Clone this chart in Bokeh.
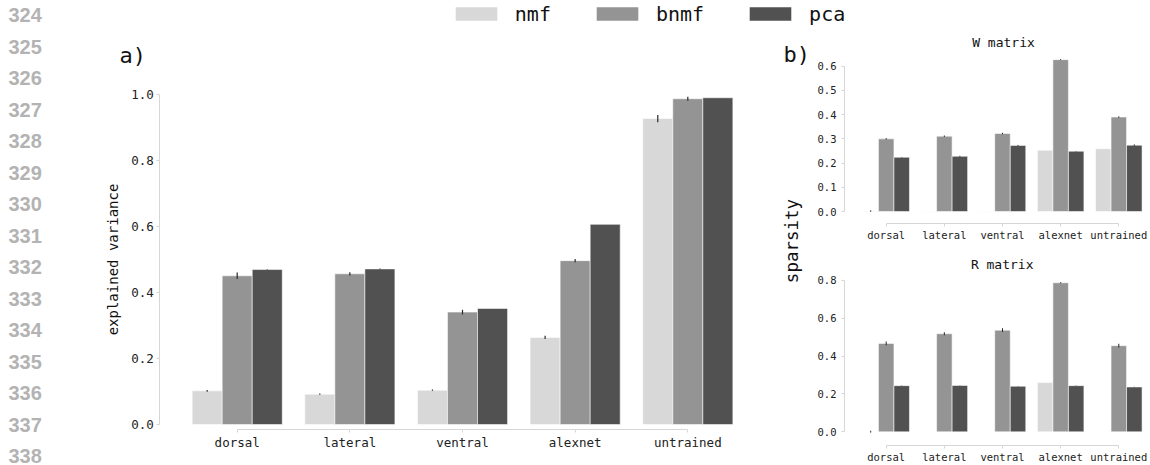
import math
from bokeh.plotting import figure
from bokeh.models import (ColumnDataSource, Range1d, FixedTicker, Label, Legend,
                          LegendItem, PrintfTickFormatter, LinearAxis)
from bokeh.transform import dodge
from bokeh.layouts import row, column
from bokeh.embed import file_html
from bokeh.resources import INLINE
from bokeh.core.properties import value

# ---------------- data ----------------
categories = ["dorsal", "lateral", "ventral", "alexnet", "untrained"]
methods = ["nmf", "bnmf", "pca"]
colors = ["#d8d8d8", "#949494", "#515151"]

# a) explained variance
ev_nmf = [0.102, 0.092, 0.104, 0.264, 0.928]
ev_bnmf = [0.451, 0.457, 0.341, 0.497, 0.988]
ev_pca = [0.470, 0.472, 0.352, 0.607, 0.991]
ev_nmf_err = [0.003, 0.002, 0.002, 0.005, 0.011]
ev_bnmf_err = [0.010, 0.005, 0.007, 0.005, 0.006]
ev_pca_err = [0.001, 0.001, 0.000, 0.000, 0.000]

# b) sparsity, W matrix
w_nmf = [0.002, 0.001, 0.001, 0.253, 0.259]
w_bnmf = [0.300, 0.311, 0.322, 0.627, 0.390]
w_pca = [0.224, 0.228, 0.273, 0.249, 0.274]
w_nmf_err = [0.003, 0.000, 0.000, 0.000, 0.000]
w_bnmf_err = [0.003, 0.003, 0.003, 0.002, 0.003]
w_pca_err = [0.001, 0.002, 0.002, 0.001, 0.003]

# b) sparsity, R matrix
r_nmf = [0.001, 0.000, 0.000, 0.260, 0.001]
r_bnmf = [0.467, 0.518, 0.537, 0.787, 0.455]
r_pca = [0.244, 0.245, 0.241, 0.244, 0.237]
r_nmf_err = [0.005, 0.000, 0.000, 0.000, 0.000]
r_bnmf_err = [0.010, 0.008, 0.010, 0.003, 0.010]
r_pca_err = [0.001, 0.001, 0.001, 0.001, 0.001]

ev_ticks = [0.0, 0.2, 0.4, 0.6, 0.8, 1.0]
w_ticks = [0.0, 0.1, 0.2, 0.3, 0.4, 0.5, 0.6]
r_ticks = [0.0, 0.2, 0.4, 0.6, 0.8]

line_numbers = [str(n) for n in range(324, 339)]

# ---------------- style ----------------
MONO = "DejaVu Sans Mono"
AXIS_COL = "#d6d6d6"
TEXT_COL = "#222222"
BAR_W = 0.8 / 3
OFFS = [-BAR_W, 0.0, BAR_W]


def base_fig(width, height, xr, yr, bl, br, bt, bb, xaxis=True, yaxis=True):
    kw = {}
    if not xaxis:
        kw["x_axis_location"] = None
    if not yaxis:
        kw["y_axis_location"] = None
    p = figure(width=width, height=height, x_range=xr, y_range=yr,
               min_border_left=bl, min_border_right=br, min_border_top=bt,
               min_border_bottom=bb, output_backend="svg", toolbar_location=None,
               **kw)
    p.frame_align = False
    p.outline_line_color = None
    p.background_fill_color = "white"
    p.border_fill_color = "white"
    p.grid.visible = False
    return p


def style_axis(ax, fs):
    ax.axis_line_color = AXIS_COL
    ax.major_tick_line_color = AXIS_COL
    ax.minor_tick_line_color = None
    ax.major_tick_out = 3
    ax.major_tick_in = 0
    ax.major_label_text_font = MONO
    ax.major_label_text_font_size = fs
    ax.major_label_text_color = TEXT_COL


def bar_panel(p, series, errs, yticks, fs, err_w, y_standoff):
    data = {"idx": list(range(len(categories)))}
    for m, s, e in zip(methods, series, errs):
        data[m] = s
        data[m + "_lo"] = [v - d for v, d in zip(s, e)]
        data[m + "_hi"] = [v + d for v, d in zip(s, e)]
    src = ColumnDataSource(data)
    for m, c, o in zip(methods, colors, OFFS):
        p.vbar(x=dodge("idx", o), top=m, bottom=0, width=BAR_W, source=src,
               fill_color=c, line_color="white", line_alpha=0.55, line_width=1)
    for m, o in zip(methods, OFFS):
        p.segment(x0=dodge("idx", o), x1=dodge("idx", o), y0=m + "_lo",
                  y1=m + "_hi", source=src, line_color="#2a2a2a", line_width=err_w)
    xa = p.xaxis[0]
    ya = p.yaxis[0]
    style_axis(xa, fs)
    style_axis(ya, fs)
    xa.ticker = FixedTicker(ticks=list(range(len(categories))))
    xa.major_label_overrides = {i: c for i, c in enumerate(categories)}
    xa.bounds = (0, len(categories) - 1)
    xa.major_label_standoff = 2
    ya.ticker = FixedTicker(ticks=yticks)
    ya.bounds = (yticks[0], yticks[-1])
    ya.formatter = PrintfTickFormatter(format="%.1f")
    ya.major_label_standoff = y_standoff
    return p


def text_label(p, x, y, text, size, angle=0.0, align="left"):
    p.add_layout(Label(x=x, y=y, x_units="screen", y_units="screen", text=text,
                       angle=angle, text_font=MONO, text_font_size=size,
                       text_color="#111111", text_align=align,
                       text_baseline="middle"))


# ---------------- line numbers (page margin column) ----------------
nums = base_fig(48, 465, Range1d(-8, 40), Range1d(14.286, -0.476), 0, 0, 0, 0,
                xaxis=False, yaxis=False)
nums.text(x=0, y=list(range(len(line_numbers))), text=line_numbers,
          text_font=value("Liberation Sans"), text_font_style="bold",
          text_font_size="20px", text_color="#b3b3b3",
          text_align="left", text_baseline="middle")

# ---------------- legend band ----------------
leg = base_fig(1102, 34, Range1d(0, 1), Range1d(0, 1), 0, 0, 0, 0,
               xaxis=False, yaxis=False)
items = []
for m, c in zip(methods, colors):
    r = leg.vbar(x=[0], top=[0], bottom=[0], width=0.0, fill_color=c, line_color=None)
    items.append(LegendItem(label=m, renderers=[r]))
legend = Legend(items=items, orientation="horizontal", location=(401.8, 8.4),
                padding=0, margin=0, spacing=40, glyph_width=52, glyph_height=17,
                label_standoff=13, label_text_font=MONO, label_text_font_size="20px",
                label_text_color="#111111", border_line_color=None,
                background_fill_alpha=0)
leg.add_layout(legend)

# ---------------- a) explained variance ----------------
fa = base_fig(765, 431, Range1d(-1.6751, 5.1158), Range1d(-0.01517, 1.1829),
              0, 0, 0, 36, yaxis=False)
fa.add_layout(LinearAxis(fixed_location=-0.687), "left")
bar_panel(fa, [ev_nmf, ev_bnmf, ev_pca], [ev_nmf_err, ev_bnmf_err, ev_pca_err],
          ev_ticks, "12.5px", 1.2, 3)
ya = fa.yaxis[0]
ya.axis_label = "explained variance"
ya.axis_label_text_font = MONO
ya.axis_label_text_font_size = "14px"
ya.axis_label_text_font_style = "normal"
ya.axis_label_text_color = "#111111"
ya.axis_label_standoff = 7
text_label(fa, 71, 374, "a)", "22px")
text_label(fa, 735, 375.5, "b)", "22px")
text_label(fa, 743.7, 188.5, "sparsity", "17.5px", angle=math.pi / 2, align="center")

# ---------------- W matrix ----------------
fw = base_fig(337, 216, Range1d(-0.717, 4.459), Range1d(-0.0495, 0.7308), 31, 5, 0, 27)
bar_panel(fw, [w_nmf, w_bnmf, w_pca], [w_nmf_err, w_bnmf_err, w_pca_err],
          w_ticks, "10.5px", 1.0, 5)
text_label(fw, 159, 181, "W matrix", "13px", align="center")

# ---------------- R matrix ----------------
fr = base_fig(337, 215, Range1d(-0.717, 4.459), Range1d(-0.072, 0.9574), 31, 5, 0, 19)
bar_panel(fr, [r_nmf, r_bnmf, r_pca], [r_nmf_err, r_bnmf_err, r_pca_err],
          r_ticks, "10.5px", 1.0, 5)
text_label(fr, 157.7, 181, "R matrix", "13px", align="center")

layout = row(nums, column(leg, row(fa, column(fw, fr))))

open("out.html", "w").write(file_html(layout, INLINE))
